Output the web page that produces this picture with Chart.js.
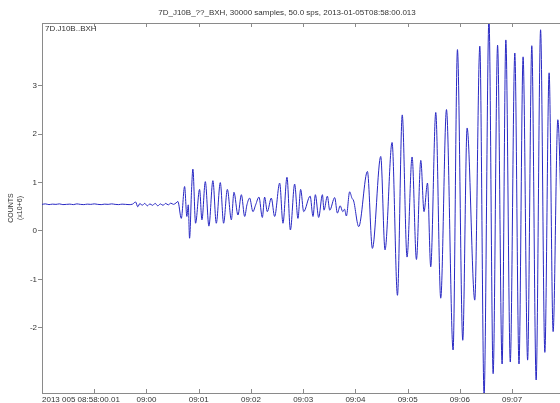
<!DOCTYPE html>
<html>
<head>
<meta charset="utf-8">
<script src="https://cdn.jsdelivr.net/npm/chart.js@4/dist/chart.umd.min.js"></script>
<style>
html,body{margin:0;padding:0;background:#fff;overflow:hidden;}
canvas{display:block;}
</style>
</head>
<body>
<canvas id="c" width="560" height="403"></canvas>
<script>
// ---- data (time in seconds after 2013-01-05T08:58:00.013, counts in units of 1e6) ----
const sampleSeconds = [0,4,8,12,16,20,24,28,32,36,40,44,48,52,56,60,64,68,72,76,80,84,88,92,96,100,104,107.5,110,112.5,115,118,121,124,127,130,133,136,139,142,145,148,151,154,
156.1,160.0,163.8,166.4,168.0,169.5,171.8,173.3,176.4,181.0,183.7,187.6,191.7,196.3,200.2,204.8,208.6,212.9,217.5,220.5,225.1,229.0,232.8,235.4,238.5,242.3,245.4,249.2,253.1,255.7,258.8,263.4,267.2,273.0,276.8,281.4,285.3,290.2,294.0,297.1,300.6,308.0,311.3,314.0,317.8,322.1,323.9,327.8,330.5,336.2,339.3,342.5,345.5,347.5,349.6,353.4,356.0,358.0,363.8,
373.8,379.5,389.1,394.0,402.1,408.3,413.8,419.3,425.1,430.1,435.1,438.8,442.8,446.5,452.3,458.0,464.6,472.2,477.2,483.3,488.3,497.1,502.9,507.8,513.4,518.2,523.3,528.5,532.8,537.9,543.1,547.9,552.6,557.8,562.6,567.6,572.7,577.6,582.5,587.1,592.5,598];
const countsE6 = [0.55,0.56,0.545,0.555,0.55,0.56,0.545,0.55,0.555,0.545,0.56,0.55,0.545,0.555,0.55,0.56,0.55,0.545,0.555,0.55,0.56,0.55,0.545,0.555,0.55,0.545,0.555,0.6,0.5,0.57,0.53,0.57,0.52,0.56,0.53,0.57,0.52,0.56,0.53,0.57,0.54,0.575,0.55,0.58,
0.61,0.26,0.92,0.30,0.54,-0.15,0.85,1.28,0.16,0.86,0.23,1.02,0.10,1.04,0.16,1.00,0.16,0.86,0.23,0.80,0.33,0.75,0.30,0.54,0.68,0.40,0.54,0.70,0.28,0.70,0.40,0.68,0.30,0.99,0.16,1.11,0.02,0.97,0.26,0.86,0.40,0.72,0.30,0.75,0.28,0.75,0.43,0.72,0.43,0.69,0.37,0.52,0.40,0.45,0.31,0.81,0.68,0.62,0.09,
1.23,-0.36,1.54,-0.39,1.83,-1.33,2.40,-0.54,1.53,-0.59,1.46,0.40,0.99,-0.74,2.45,-1.39,2.51,-2.46,3.75,-2.26,2.13,-1.43,3.82,-3.40,4.40,-2.95,3.84,-2.75,3.95,-2.71,3.68,-2.75,3.60,-2.67,3.83,-3.08,4.16,-2.51,3.27,-2.08,2.30,-1.0];
const tickSeconds = [0,60,120,180,240,300,360,420,480,540];
const tickLabels = ['2013 005 08:58:00.01','','09:00','09:01','09:02','09:03','09:04','09:05','09:06','09:07'];
const yTickValues = [-2,-1,0,1,2,3];
const yTickLabels = ['-2','-1','0','1','2','3'];
const titleText = '7D_J10B_??_BXH, 30000 samples, 50.0 sps, 2013-01-05T08:58:00.013';
const traceLabel = '7D.J10B..BXH';
const yTitleLines = ['COUNTS','(x10+6)'];

const FONT = 'Liberation Sans';
const frameColor = '#8a8a8a';
const textColor = '#333333';
const lineColor = 'rgb(40,40,195)';

const points = sampleSeconds.map((s,i)=>({x:s,y:countsE6[i]}));

const overlay = {
  id:'overlay',
  afterDraw(chart){
    const {ctx, chartArea:a, scales:{x}} = chart;
    ctx.save();
    ctx.strokeStyle = frameColor;
    ctx.lineWidth = 1;
    ctx.beginPath();
    ctx.moveTo(a.left, a.top+0.5); ctx.lineTo(a.right, a.top+0.5);
    tickSeconds.forEach(s=>{
      const px = Math.round(x.getPixelForValue(s))+0.5;
      ctx.moveTo(px, a.top); ctx.lineTo(px, a.top+4);
      ctx.moveTo(px, a.bottom); ctx.lineTo(px, a.bottom-4);
    });
    ctx.stroke();
    ctx.fillStyle = textColor;
    ctx.font = '8px "'+FONT+'"';
    ctx.textBaseline = 'middle';
    ctx.textAlign = 'center';
    ctx.fillText(titleText, 287, 13);
    ctx.textAlign = 'left';
    ctx.fillText(traceLabel, a.left+3, a.top+6);
    ctx.fillText(tickLabels[0], x.getPixelForValue(tickSeconds[0]), a.bottom+7);
    ctx.font = '7px "'+FONT+'"';
    ctx.textAlign = 'center';
    const cy = (a.top+a.bottom)/2;
    [11,20].forEach((cx,i)=>{
      ctx.save();
      ctx.translate(cx, cy);
      ctx.rotate(-Math.PI/2);
      ctx.fillText(yTitleLines[i], 0, 0);
      ctx.restore();
    });
    ctx.restore();
  }
};

new Chart(document.getElementById('c'), {
  type:'line',
  data:{datasets:[{data:points, borderColor:lineColor, borderWidth:1, pointRadius:0, fill:false, cubicInterpolationMode:'monotone'}]},
  options:{
    responsive:false, animation:false, devicePixelRatio:1,
    layout:{padding:{top:23,left:0,right:0,bottom:0}},
    plugins:{legend:{display:false}, tooltip:{enabled:false}},
    scales:{
      x:{type:'linear', min:0, max:595,
        afterFit(s){ s.height = 10; s.paddingLeft = 0; s.paddingRight = 0; },
        afterBuildTicks(s){ s.ticks = tickSeconds.map(v=>({value:v})); },
        grid:{display:true, drawOnChartArea:false, drawTicks:false, color:frameColor},
        border:{display:true, color:frameColor},
        ticks:{maxRotation:0, autoSkip:false, padding:2, color:textColor, font:{family:FONT, size:8},
          callback(v){ const i = tickSeconds.indexOf(v); return i>0 ? tickLabels[i] : ''; }}
      },
      y:{type:'linear', min:-3.35, max:4.30,
        afterFit(s){ s.width = 42; },
        afterBuildTicks(s){ s.ticks = yTickValues.map(v=>({value:v})); },
        grid:{display:true, drawOnChartArea:false, drawTicks:true, tickLength:4, color:frameColor},
        border:{display:true, color:frameColor},
        ticks:{padding:1, color:textColor, font:{family:FONT, size:8},
          callback(v){ const i = yTickValues.indexOf(v); return i>=0 ? yTickLabels[i] : ''; }}
      }
    }
  },
  plugins:[overlay]
});
</script>
</body>
</html>
